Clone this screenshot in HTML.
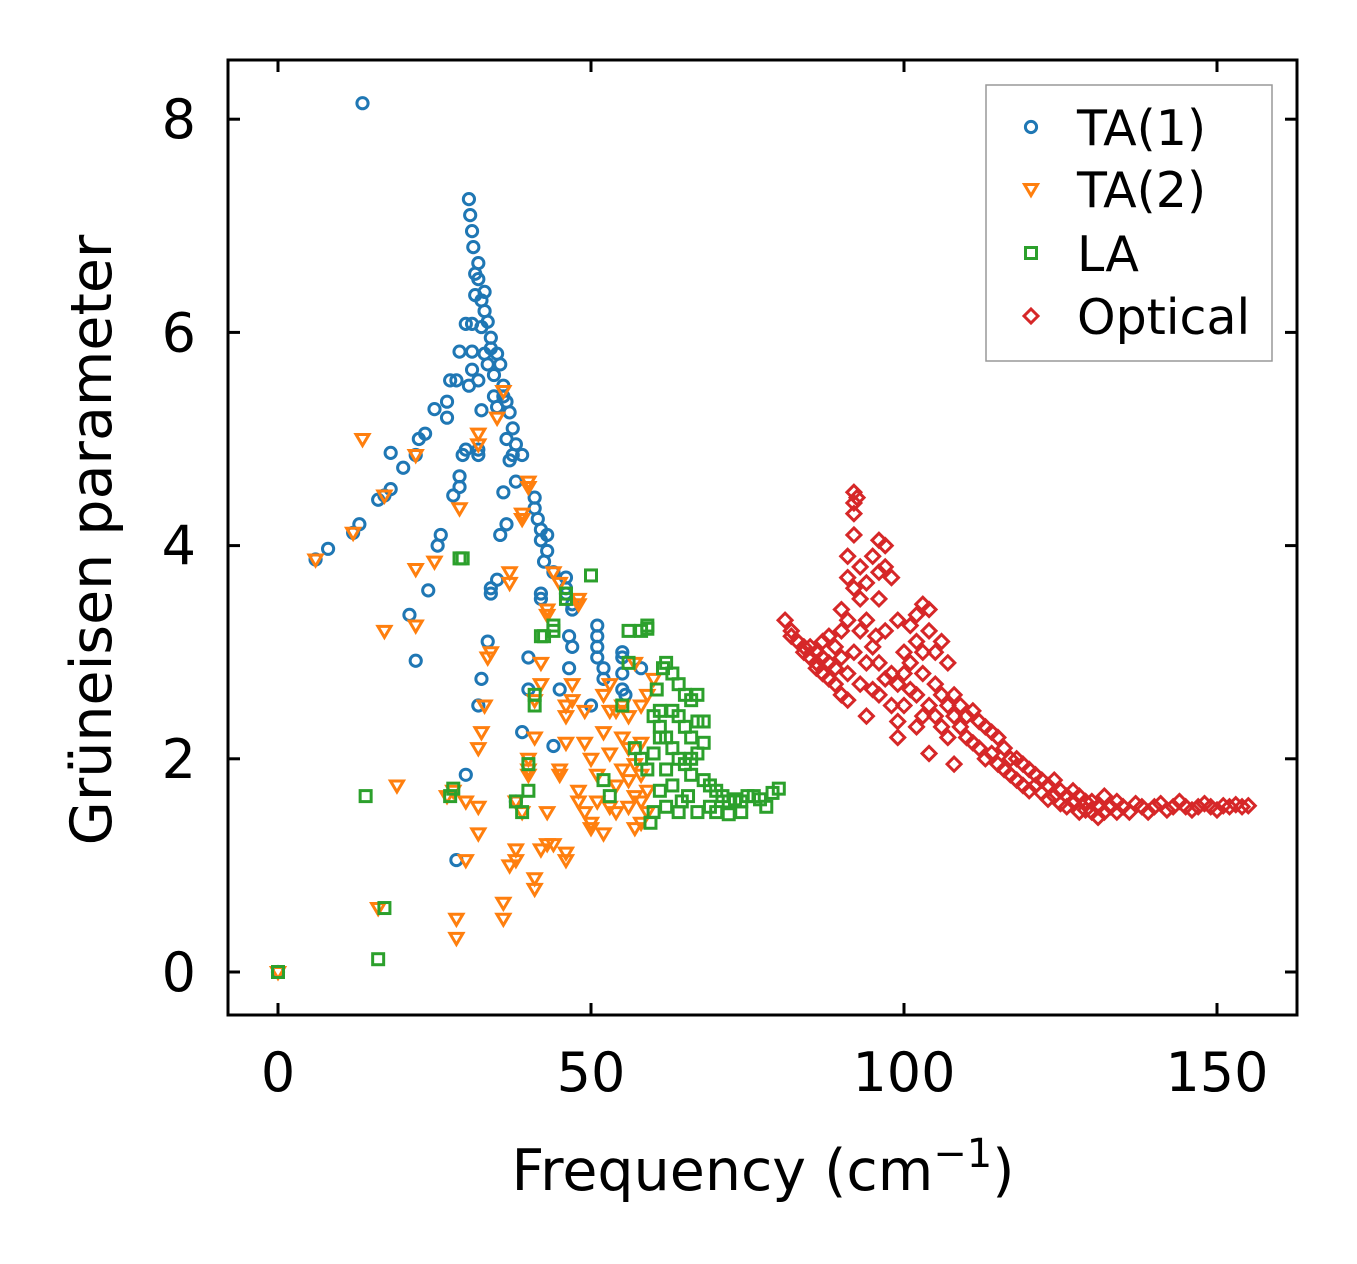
<!DOCTYPE html>
<html><head><meta charset="utf-8"><style>
html,body{margin:0;padding:0;background:#fff;}
svg{display:block;font-family:"DejaVu Sans","Liberation Sans",sans-serif;}
</style></head><body>
<svg id="chart" width="1357" height="1264" viewBox="0 0 1357 1264" xmlns="http://www.w3.org/2000/svg">
<rect x="0" y="0" width="1357" height="1264" fill="#fff"/>
<g id="marks"></g>
<g id="axes"></g>
</svg>
<script>
const xTicks=[0,50,100,150];
const yTicks=[0,2,4,6,8];
const seriesNames=["TA(1)","TA(2)","LA","Optical"];
const ta1=[[0,0],[13.5,8.15],[6,3.87],[8,3.97],[12,4.12],[13,4.2],[16,4.43],[17,4.47],[18,4.53],[18,4.87],[20,4.73],[21,3.35],[22,2.92],[22,4.85],[22.5,5.0],[23.5,5.05],[24,3.58],[25,5.28],[25.5,4.0],[26,4.1],[27,5.2],[27,5.35],[27.5,5.55],[28,4.47],[28.5,5.55],[29,4.55],[29,4.65],[29,5.82],[29.5,4.85],[30,6.08],[30,4.9],[30.5,7.25],[30.5,5.5],[30.7,7.1],[31,6.95],[31,5.65],[31,5.82],[31,6.08],[31.2,6.8],[31.5,6.55],[31.5,6.35],[32,6.65],[32,6.5],[32,5.55],[32,4.9],[32,4.85],[32.5,6.3],[32.5,6.05],[32.5,5.27],[33,6.38],[33,6.2],[33,5.8],[33.5,6.1],[33.5,5.7],[33.5,3.1],[34,5.95],[34,5.85],[34,3.6],[34,3.55],[34.5,5.6],[34.5,5.4],[35,5.8],[35,5.3],[35,3.68],[35.5,5.7],[35.5,4.1],[36,5.5],[36,5.4],[36,4.5],[36.5,5.35],[36.5,5.0],[36.5,4.2],[37,5.25],[37,4.8],[37.5,5.1],[37.5,4.85],[38,4.95],[38,4.6],[38,1.6],[39,4.85],[39,2.25],[40,2.95],[40,2.65],[41,4.45],[41,4.35],[41.5,4.25],[42,4.15],[42,4.05],[42,3.55],[42,3.5],[42.5,3.85],[43,4.1],[43,3.95],[44,2.12],[44,3.75],[45,2.65],[46,3.7],[46,3.6],[46,3.55],[46.5,3.15],[46.5,2.85],[47,3.45],[47,3.4],[47,3.05],[50,2.5],[51,3.25],[51,3.15],[51,3.05],[51,2.95],[52,2.75],[52,2.85],[55,3.0],[55,2.95],[55,2.8],[55,2.65],[55.5,2.6],[58,2.85],[28.5,1.05],[30,1.85],[32,2.5],[32.5,2.75]];
const ta2=[[0,0],[6,3.87],[13.5,5.0],[12,4.12],[17,4.47],[16,0.6],[17,3.2],[19,1.75],[22,3.78],[22,3.25],[22,4.85],[25,3.85],[27,1.65],[28,1.7],[28.5,0.5],[28.5,0.32],[29,4.35],[30,1.6],[30,1.05],[32,1.3],[32,1.55],[32,2.1],[32.5,2.25],[32,4.95],[32,5.05],[33,2.5],[33.5,2.95],[34,3.0],[35,5.2],[36,5.45],[36,0.65],[36,0.5],[37,1.0],[37,3.65],[37,3.75],[38,1.05],[38,1.15],[38,1.6],[39,1.5],[39,4.25],[39,4.3],[40,1.85],[40,1.9],[40,2.0],[40,4.6],[40,4.55],[41,0.78],[41,0.88],[41,2.2],[41,2.55],[42,2.7],[42,2.9],[42,1.15],[43,1.2],[43,1.5],[43,3.35],[43,3.4],[44,1.2],[44,3.75],[45,1.85],[45,1.9],[45,3.65],[46,1.05],[46,1.12],[46,2.15],[46,2.4],[46,2.5],[47,2.55],[47,2.7],[48,1.6],[48,1.7],[48,3.5],[48,3.45],[49,1.5],[49,2.15],[49,2.45],[50,1.35],[50,1.4],[50,2.0],[51,1.6],[51,1.85],[52,2.25],[52,2.6],[52,1.3],[53,1.55],[53,2.05],[53,2.45],[53,2.7],[54,1.5],[54,1.75],[54,2.45],[55,1.9],[55,2.2],[55,2.5],[56,1.55],[56,1.8],[56,2.1],[56,2.4],[57,1.35],[57,1.65],[57,1.95],[57,2.9],[58,1.4],[58,1.6],[58,1.85],[58,2.15],[58,2.5],[59,1.5],[59,1.7],[59,2.6],[60,2.75]];
const la=[[0,0],[14,1.65],[16,0.12],[17,0.6],[27.5,1.65],[28,1.72],[29,3.88],[29.5,3.88],[38,1.6],[39,1.5],[40,1.7],[40,1.95],[41,2.5],[41,2.6],[42,3.15],[42.5,3.15],[44,3.25],[44,3.2],[46,3.55],[46,3.5],[50,3.72],[52,1.8],[53,1.65],[55,2.5],[56,2.9],[56,3.2],[57,2.1],[58,3.2],[58,2.0],[59,1.9],[59,3.25],[59.5,1.4],[60,2.05],[60,2.4],[60,1.5],[60.5,2.65],[61,2.3],[61,2.45],[61,1.7],[61.5,2.85],[62,2.9],[62,2.2],[62,1.9],[62,1.55],[63,2.45],[63,2.8],[63,2.1],[63,1.75],[64,2.7],[64,2.4],[64,2.0],[64,1.5],[64.5,1.6],[65,2.6],[65,2.3],[65,1.95],[65.5,1.65],[66,2.55],[66,2.2],[66,2.0],[66,1.85],[67,2.6],[67,2.35],[67,2.05],[67,1.5],[68,2.35],[68,2.15],[68,1.8],[69,1.75],[69,1.55],[70,1.7],[70,1.5],[71,1.65],[72,1.6],[72,1.48],[73,1.62],[74,1.6],[74,1.5],[75,1.65],[76,1.65],[77,1.62],[78,1.55],[79,1.68],[80,1.72],[59,3.22],[61,2.2]];
const optical=[[81,3.3],[82,3.2],[82,3.15],[83,3.1],[84,3.05],[84,3.0],[85,2.95],[85,3.05],[86,2.9],[86,3.0],[86,2.85],[87,2.8],[87,3.1],[87,2.95],[88,2.75],[88,2.9],[88,3.15],[89,2.7],[89,3.05],[89,2.85],[90,2.6],[90,3.2],[90,3.4],[90,2.95],[91,2.55],[91,3.3],[91,3.7],[91,3.9],[91,2.8],[92,4.5],[92,4.4],[92,4.3],[92,4.1],[92,3.6],[92,3.0],[92.5,4.45],[93,3.8],[93,3.5],[93,3.2],[93,2.7],[94,3.65],[94,3.3],[94,2.4],[94,2.9],[95,3.9],[95,3.05],[95,2.65],[95.5,3.15],[96,4.05],[96,3.75],[96,3.5],[96,2.9],[96,2.6],[97,4.0],[97,3.8],[97,3.2],[97,2.75],[98,3.7],[98,2.8],[98,2.5],[99,3.3],[99,2.35],[99,2.2],[99,2.7],[100,3.0],[100,2.8],[100,2.5],[101,3.25],[101,2.9],[101,2.65],[102,3.35],[102,3.1],[102,2.6],[102,2.3],[103,3.45],[103,3.0],[103,2.8],[103,2.4],[104,3.4],[104,3.2],[104,2.5],[104,2.05],[105,3.0],[105,2.7],[105,2.4],[106,3.1],[106,2.6],[106,2.3],[107,2.9],[107,2.5],[107,2.2],[108,2.6],[108,2.4],[108,1.95],[109,2.5],[109,2.3],[110,2.4],[110,2.2],[111,2.45],[111,2.15],[112,2.35],[112,2.1],[113,2.3],[113,2.0],[114,2.25],[114,2.05],[115,2.2],[115,1.95],[116,2.1],[116,1.9],[117,2.0],[117,1.85],[118,2.0],[118,1.8],[119,1.95],[119,1.75],[120,1.9],[120,1.7],[121,1.85],[121,1.75],[122,1.8],[122,1.68],[123,1.75],[123,1.62],[124,1.8],[124,1.65],[125,1.7],[125,1.58],[126,1.65],[126,1.55],[127,1.7],[127,1.6],[128,1.65],[128,1.5],[129,1.6],[129,1.52],[130,1.6],[130,1.5],[131,1.55],[131,1.45],[132,1.65],[132,1.5],[133,1.55],[134,1.5],[134,1.6],[135,1.55],[136,1.5],[137,1.58],[138,1.55],[139,1.5],[140,1.55],[141,1.58],[142,1.52],[143,1.55],[144,1.6],[145,1.55],[146,1.52],[147,1.55],[148,1.58],[149,1.55],[150,1.52],[151,1.56],[152,1.55],[153,1.57],[154,1.55],[155,1.56]];

const NS="http://www.w3.org/2000/svg";
const L=228,T=60,R=1297,B=1015;
function sx(v){return 278+v*6.26;}
function sy(v){return 972-v*106.6;}
function mk(tag,attrs,parent){const e=document.createElementNS(NS,tag);for(const k in attrs)e.setAttribute(k,attrs[k]);parent.appendChild(e);return e;}
const marks=document.getElementById('marks');
const axes=document.getElementById('axes');
const colors=["#1f77b4","#ff7f0e","#2ca02c","#d62728"];
function marker(kind,x,y,c,parent){
  let e;
  if(kind===0){e=mk('circle',{cx:x,cy:y,r:5.6,fill:'none',stroke:c,'stroke-width':3},parent);}
  else if(kind===1){e=mk('path',{d:`M${x-6.5},${y-4.5} L${x+6.5},${y-4.5} L${x},${y+6.5} Z`,fill:'none',stroke:c,'stroke-width':3},parent);}
  else if(kind===2){e=mk('rect',{x:x-5.5,y:y-5.5,width:11,height:11,fill:'none',stroke:c,'stroke-width':3},parent);}
  else {e=mk('path',{d:`M${x},${y-7} L${x+7},${y} L${x},${y+7} L${x-7},${y} Z`,fill:'none',stroke:c,'stroke-width':3},parent);}
  return e;
}
const allSeries=[ta1,ta2,la,optical];
const seriesKeys=["ta1","ta2","la","optical"];
allSeries.forEach((s,k)=>{
  const g=mk('g',{},marks);
  
  
  s.forEach(p=>{
    const e=marker(k,sx(p[0]),sy(p[1]),colors[k],g);
    
    
  });
});
const fr=mk('rect',{x:L,y:T,width:R-L,height:B-T,fill:'none',stroke:'#000','stroke-width':3},axes);


xTicks.forEach(v=>{
  const x=sx(v);
  mk('line',{x1:x,y1:B,x2:x,y2:B-12,stroke:'#000','stroke-width':3},axes);
  mk('line',{x1:x,y1:T,x2:x,y2:T+12,stroke:'#000','stroke-width':3},axes);
  const t=mk('text',{x:x,y:1091,'text-anchor':'middle','font-size':54,fill:'#000'},axes);
  t.textContent=v;
  
  
});
yTicks.forEach(v=>{
  const y=sy(v);
  mk('line',{x1:L,y1:y,x2:L+12,y2:y,stroke:'#000','stroke-width':3},axes);
  mk('line',{x1:R,y1:y,x2:R-12,y2:y,stroke:'#000','stroke-width':3},axes);
  const t=mk('text',{x:196,y:y+19,'text-anchor':'end','font-size':54,fill:'#000'},axes);
  t.textContent=v;
  
  
});
const xl=mk('text',{x:763,y:1190,'text-anchor':'middle','font-size':57,fill:'#000'},axes);
xl.innerHTML='Frequency (cm<tspan dy="-23" font-size="40">−1</tspan><tspan dy="23">)</tspan>';


const yl=mk('text',{x:0,y:0,'text-anchor':'middle','font-size':57,fill:'#000',transform:'translate(111,540) rotate(-90)'},axes);
yl.textContent='Grüneisen parameter';


const lg=mk('g',{},axes);


mk('rect',{x:986,y:85,width:286,height:276,fill:'#fff',stroke:'#999','stroke-width':1.5},lg);
const ly=[127,189,253,316];
seriesNames.forEach((n,k)=>{
  const g=mk('g',{},lg);
  
  
  marker(k,1031,ly[k],colors[k],g);
  const t=mk('text',{x:1077,y:ly[k]+18,'font-size':49,fill:'#000'},g);
  t.textContent=n;
});
</script>
</body></html>
